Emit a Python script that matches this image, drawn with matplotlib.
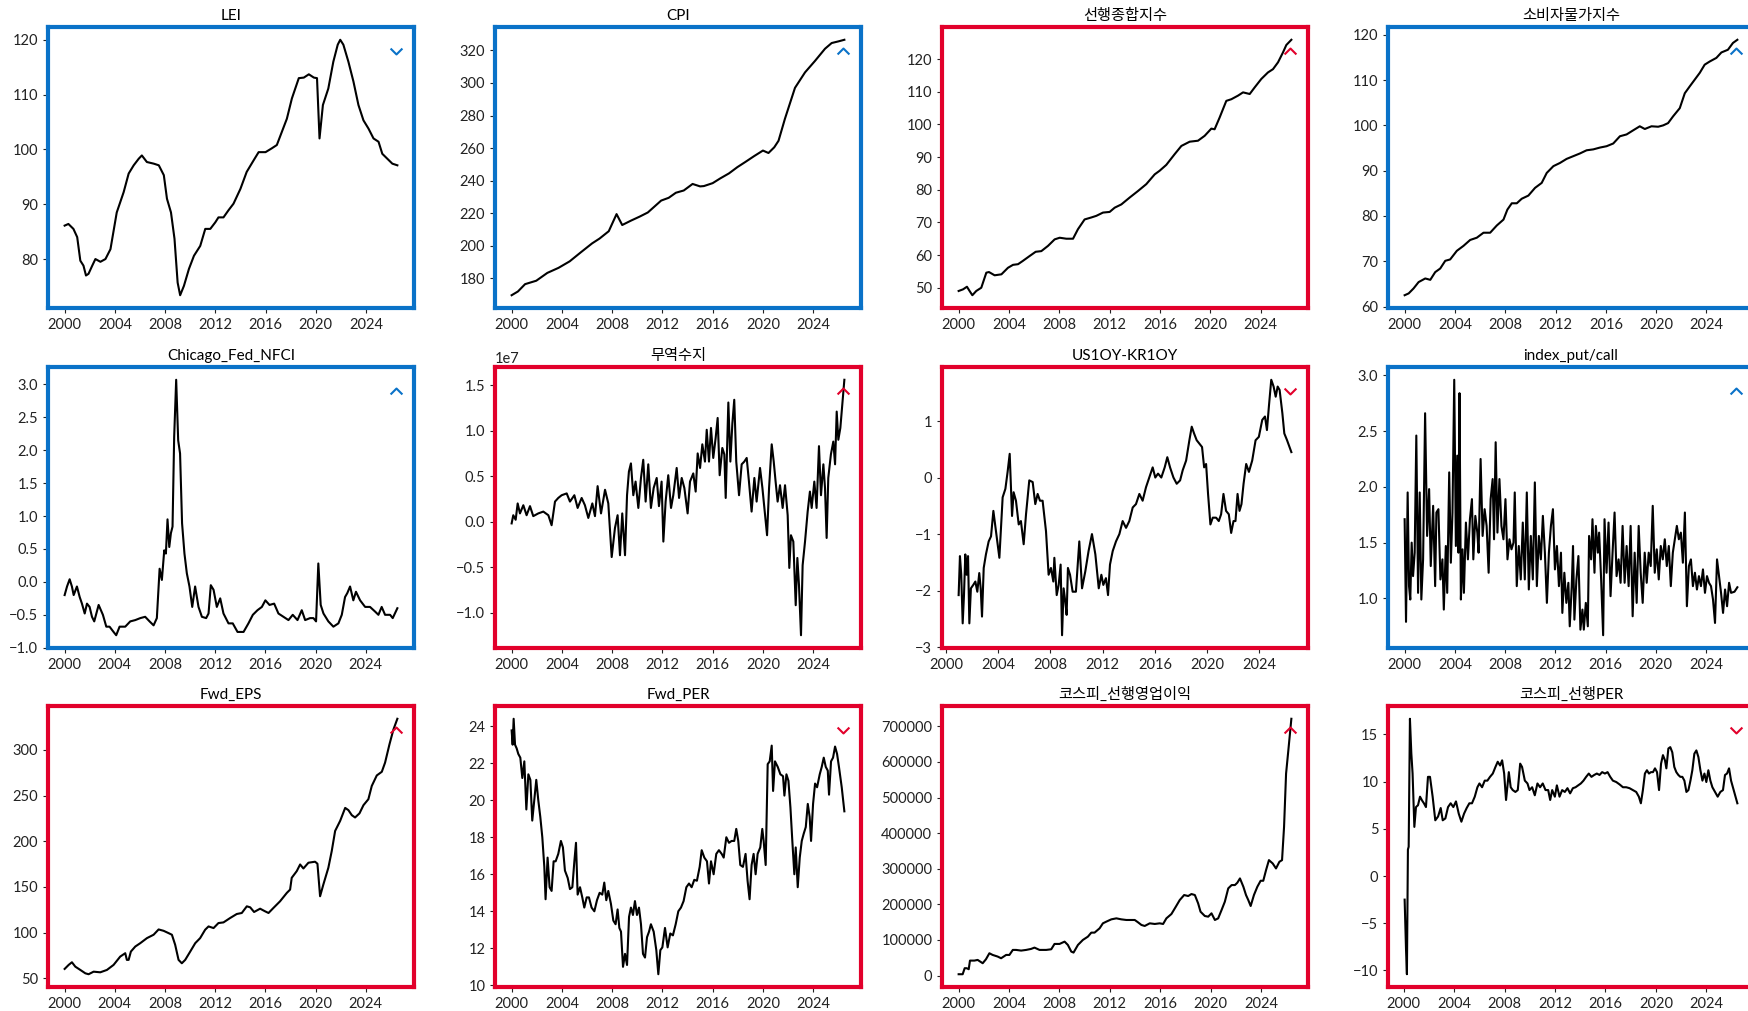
import numpy as np
import matplotlib
matplotlib.use("Agg")
import matplotlib.pyplot as plt
from matplotlib.ticker import MultipleLocator, StrMethodFormatter

plt.rcParams['font.family'] = ['Lato', 'Noto Sans CJK KR', 'DejaVu Sans']
plt.rcParams['axes.unicode_minus'] = True

# ---- data (decimal year, value) ----
lei_year = [2000.0, 2000.3, 2000.7, 2001.0, 2001.25, 2001.5, 2001.7, 2001.9, 2002.2, 2002.45, 2002.85,
            2003.25, 2003.65, 2004.15, 2004.7, 2005.1, 2005.5, 2005.9, 2006.15, 2006.55, 2007.1, 2007.5,
            2007.9, 2008.15, 2008.47, 2008.75, 2009.0, 2009.2, 2009.5, 2009.9, 2010.3, 2010.8, 2011.2,
            2011.6, 2012.0, 2012.25, 2012.65, 2013.05, 2013.45, 2014.0, 2014.5, 2015.05, 2015.45, 2016.0,
            2016.5, 2016.9, 2017.3, 2017.7, 2018.1, 2018.65, 2019.05, 2019.45, 2019.85, 2020.1, 2020.3,
            2020.57, 2021.0, 2021.4, 2021.75, 2021.95, 2022.2, 2022.6, 2023.0, 2023.4, 2023.8, 2024.2,
            2024.6, 2025.0, 2025.3, 2025.7, 2026.1, 2026.5]
lei_val = [86.1, 86.4, 85.5, 84.0, 79.7, 78.8, 77.0, 77.3, 78.8, 80.0, 79.5,
           80.0, 81.8, 88.5, 92.2, 95.6, 97.1, 98.3, 98.9, 97.7, 97.4, 97.1,
           95.3, 91.0, 88.5, 83.7, 75.7, 73.4, 75.1, 78.2, 80.6, 82.4, 85.5,
           85.5, 86.7, 87.6, 87.6, 88.9, 90.1, 92.8, 95.9, 98.0, 99.5, 99.5,
           100.2, 100.8, 103.2, 105.6, 109.3, 113.0, 113.1, 113.7, 113.1, 113.0, 102.0,
           108.1, 111.1, 116.0, 119.1, 120.0, 119.1, 116.0, 112.4, 108.1, 105.3, 103.8,
           102.0, 101.4, 99.2, 98.3, 97.4, 97.1]

cpi_year = [2000.0, 2000.5, 2001.07, 2001.96, 2002.84, 2003.73, 2004.62, 2005.5, 2006.4, 2007.0, 2007.73,
            2008.35, 2008.8, 2009.5, 2010.2, 2010.84, 2011.9, 2012.5, 2013.07, 2013.7, 2014.4, 2015.0,
            2015.3, 2016.0, 2016.6, 2017.3, 2017.96, 2018.6, 2019.3, 2020.0, 2020.44, 2020.9, 2021.24,
            2021.75, 2022.55, 2023.35, 2024.14, 2024.94, 2025.47, 2026.0, 2026.48]
cpi_val = [169.7, 172.0, 176.5, 178.6, 183.4, 186.5, 190.5, 196.0, 201.5, 204.5, 209.0,
           219.5, 212.8, 215.5, 218.0, 220.5, 227.8, 229.5, 232.6, 234.0, 238.0, 236.5,
           236.7, 238.5, 241.4, 244.5, 248.3, 251.5, 255.1, 258.5, 257.0, 260.5, 264.5,
           278.0, 297.0, 306.5, 313.5, 321.0, 324.5, 325.5, 326.5]

lead_year = [2000.0, 2000.35, 2000.66, 2000.87, 2001.09, 2001.4, 2001.8, 2002.2, 2002.41, 2002.86, 2003.4,
             2003.92, 2004.32, 2004.72, 2005.1, 2005.64, 2006.12, 2006.57, 2007.1, 2007.63, 2008.03, 2008.56,
             2009.09, 2009.48, 2010.01, 2010.54, 2010.94, 2011.47, 2012.0, 2012.4, 2012.93, 2013.59, 2014.25,
             2014.91, 2015.58, 2015.97, 2016.5, 2017.17, 2017.7, 2018.36, 2019.02, 2019.55, 2020.08, 2020.34,
             2020.74, 2021.27, 2021.67, 2022.2, 2022.6, 2023.13, 2023.52, 2024.05, 2024.58, 2024.98, 2025.38,
             2025.77, 2026.04, 2026.44]
lead_val = [49.0, 49.5, 50.3, 49.0, 47.7, 49.0, 50.0, 54.6, 54.8, 53.8, 54.1,
            56.1, 57.0, 57.2, 58.2, 59.7, 61.0, 61.2, 62.8, 64.8, 65.3, 65.0,
            65.0, 67.9, 70.9, 71.5, 72.0, 73.0, 73.2, 74.5, 75.5, 77.6, 79.6,
            81.7, 84.7, 85.8, 87.6, 90.9, 93.4, 94.7, 95.0, 96.5, 98.7, 98.5,
            102.1, 107.2, 107.7, 108.8, 109.8, 109.3, 111.3, 113.9, 115.9, 116.9, 119.0,
            122.0, 124.3, 125.9]

kcpi_year = [2000.0, 2000.32, 2000.71, 2001.11, 2001.64, 2002.04, 2002.43, 2002.83, 2003.23, 2003.62, 2004.15,
             2004.68, 2005.21, 2005.74, 2006.27, 2006.8, 2007.33, 2007.86, 2008.17, 2008.52, 2008.92, 2009.31,
             2009.84, 2010.37, 2010.9, 2011.3, 2011.83, 2012.35, 2012.88, 2013.41, 2013.94, 2014.47, 2015.0,
             2015.53, 2016.06, 2016.59, 2017.12, 2017.65, 2018.17, 2018.7, 2019.1, 2019.63, 2020.16, 2020.56,
             2020.95, 2021.35, 2021.88, 2022.28, 2022.67, 2023.07, 2023.47, 2023.86, 2024.26, 2024.79, 2025.19,
             2025.71, 2026.11, 2026.46]
kcpi_val = [62.5, 62.9, 64.0, 65.4, 66.2, 65.9, 67.6, 68.4, 70.1, 70.4, 72.3,
            73.4, 74.7, 75.2, 76.3, 76.3, 77.9, 79.2, 81.4, 82.8, 82.8, 83.8,
            84.5, 86.2, 87.3, 89.5, 91.0, 91.7, 92.6, 93.2, 93.8, 94.5, 94.7,
            95.1, 95.4, 96.0, 97.6, 98.0, 98.9, 99.8, 99.2, 99.8, 99.7, 100.0,
            100.5, 102.0, 103.8, 107.1, 108.6, 110.1, 111.6, 113.4, 114.1, 114.9, 116.1,
            116.7, 118.2, 118.9]

nfci_year = [2000.0, 2000.19, 2000.4, 2000.58, 2000.72, 2000.98, 2001.2, 2001.38, 2001.6, 2001.78, 2001.99,
             2002.18, 2002.36, 2002.71, 2003.05, 2003.32, 2003.58, 2003.9, 2004.11, 2004.38, 2004.83, 2005.23,
             2005.63, 2006.03, 2006.42, 2006.77, 2007.09, 2007.35, 2007.57, 2007.75, 2007.94, 2008.07, 2008.2,
             2008.34, 2008.47, 2008.6, 2008.73, 2008.89, 2009.05, 2009.2, 2009.36, 2009.55, 2009.74, 2009.95,
             2010.17, 2010.4, 2010.67, 2010.94, 2011.28, 2011.47, 2011.65, 2011.87, 2012.13, 2012.4, 2012.66,
             2013.06, 2013.4, 2013.78, 2014.26, 2014.65, 2015.0, 2015.37, 2015.72, 2016.0, 2016.33, 2016.7,
             2017.04, 2017.44, 2017.84, 2018.18, 2018.56, 2018.9, 2019.17, 2019.56, 2019.83, 2020.04, 2020.22,
             2020.41, 2020.63, 2021.02, 2021.42, 2021.82, 2022.09, 2022.35, 2022.53, 2022.75, 2023.01, 2023.22,
             2023.55, 2023.95, 2024.34, 2024.74, 2025.01, 2025.27, 2025.54, 2025.94, 2026.15, 2026.52]
nfci_val = [-0.2, -0.07, 0.04, -0.07, -0.2, -0.07, -0.23, -0.33, -0.48, -0.33, -0.38,
            -0.53, -0.6, -0.35, -0.5, -0.68, -0.68, -0.76, -0.81, -0.68, -0.68, -0.6,
            -0.58, -0.55, -0.53, -0.6, -0.66, -0.55, 0.2, 0.03, 0.48, 0.43, 0.95,
            0.53, 0.74, 0.84, 2.2, 3.07, 2.15, 1.95, 0.89, 0.43, 0.13, -0.07,
            -0.38, -0.07, -0.38, -0.53, -0.55, -0.48, -0.05, -0.12, -0.38, -0.25, -0.48,
            -0.63, -0.63, -0.76, -0.76, -0.63, -0.5, -0.43, -0.38, -0.28, -0.35, -0.33,
            -0.48, -0.53, -0.58, -0.5, -0.58, -0.43, -0.58, -0.55, -0.55, -0.6, 0.28,
            -0.35, -0.48, -0.6, -0.68, -0.63, -0.5, -0.23, -0.17, -0.07, -0.28, -0.15,
            -0.28, -0.38, -0.38, -0.45, -0.5, -0.38, -0.5, -0.5, -0.55, -0.4]

# trade balance, in 1e7 units
trade_year = [2000.0, 2000.13, 2000.32, 2000.48, 2000.66, 2000.93, 2001.19, 2001.46, 2001.72, 2002.12, 2002.52,
              2002.92, 2003.18, 2003.45, 2003.71, 2003.98, 2004.38, 2004.64, 2004.99, 2005.25, 2005.57, 2005.83,
              2006.1, 2006.42, 2006.63, 2006.84, 2007.11, 2007.43, 2007.69, 2007.96, 2008.22, 2008.43, 2008.62,
              2008.8, 2009.02, 2009.18, 2009.33, 2009.49, 2009.68, 2009.86, 2010.08, 2010.29, 2010.47, 2010.66,
              2010.87, 2011.08, 2011.3, 2011.54, 2011.72, 2011.93, 2012.07, 2012.25, 2012.46, 2012.68, 2012.86,
              2013.13, 2013.32, 2013.53, 2013.74, 2014.0, 2014.19, 2014.45, 2014.64, 2014.8, 2014.99, 2015.17,
              2015.38, 2015.52, 2015.7, 2015.86, 2016.04, 2016.23, 2016.39, 2016.55, 2016.76, 2016.92, 2017.03,
              2017.24, 2017.4, 2017.56, 2017.71, 2017.87, 2018.09, 2018.3, 2018.51, 2018.7, 2018.88, 2019.09,
              2019.31, 2019.49, 2019.76, 2019.95, 2020.16, 2020.32, 2020.48, 2020.69, 2020.85, 2021.0, 2021.16,
              2021.35, 2021.56, 2021.75, 2021.96, 2022.09, 2022.22, 2022.41, 2022.6, 2022.73, 2022.86, 2023.02,
              2023.15, 2023.34, 2023.55, 2023.73, 2023.87, 2024.08, 2024.26, 2024.45, 2024.61, 2024.8, 2024.93,
              2025.06, 2025.19, 2025.4, 2025.59, 2025.73, 2025.86, 2025.99, 2026.15, 2026.31, 2026.47]
trade_val = [-0.02, 0.07, 0.02, 0.2, 0.09, 0.18, 0.07, 0.17, 0.06, 0.09, 0.11,
             0.07, -0.04, 0.22, 0.26, 0.29, 0.31, 0.22, 0.29, 0.15, 0.26, 0.18,
             0.04, 0.2, 0.06, 0.39, 0.09, 0.35, 0.2, -0.39, -0.07, 0.07, -0.37,
             0.09, -0.37, 0.29, 0.55, 0.64, 0.29, 0.44, 0.15, 0.48, 0.68, 0.22,
             0.63, 0.15, 0.37, 0.48, 0.17, 0.44, -0.22, 0.22, 0.51, 0.15, 0.29,
             0.59, 0.26, 0.48, 0.37, 0.09, 0.44, 0.53, 0.33, 0.75, 0.59, 0.85,
             0.66, 1.01, 0.66, 1.03, 0.7, 0.92, 1.14, 0.51, 0.81, 0.74, 0.26,
             1.31, 0.66, 1.08, 1.34, 0.66, 0.29, 0.63, 0.66, 0.7, 0.44, 0.11,
             0.48, 0.22, 0.59, 0.37, 0.07, -0.15, 0.37, 0.85, 0.66, 0.44, 0.22,
             0.4, 0.15, 0.4, 0.07, -0.51, -0.15, -0.22, -0.92, -0.4, -0.7, -1.25,
             -0.48, -0.22, 0.11, 0.33, 0.15, 0.44, 0.15, 0.83, 0.29, 0.63, 0.37,
             -0.18, 0.48, 0.74, 0.88, 0.63, 1.21, 0.9, 1.03, 1.29, 1.56]

spread_year = [2000.97, 2001.07, 2001.17, 2001.28, 2001.38, 2001.48, 2001.58, 2001.69, 2001.79, 2001.91, 2002.09,
               2002.25, 2002.4, 2002.55, 2002.66, 2002.76, 2002.89, 2003.06, 2003.27, 2003.45, 2003.63, 2003.83,
               2004.09, 2004.34, 2004.55, 2004.72, 2004.88, 2005.06, 2005.18, 2005.36, 2005.57, 2005.74, 2005.95,
               2006.13, 2006.38, 2006.64, 2006.84, 2007.02, 2007.2, 2007.4, 2007.66, 2007.86, 2008.04, 2008.22,
               2008.3, 2008.48, 2008.63, 2008.78, 2008.89, 2009.01, 2009.14, 2009.24, 2009.34, 2009.5, 2009.7,
               2009.95, 2010.21, 2010.42, 2010.67, 2010.92, 2011.18, 2011.44, 2011.7, 2011.9, 2012.05, 2012.25,
               2012.41, 2012.56, 2012.77, 2013.02, 2013.28, 2013.53, 2013.79, 2014.04, 2014.3, 2014.55, 2014.81,
               2015.06, 2015.32, 2015.57, 2015.83, 2016.03, 2016.24, 2016.49, 2016.75, 2016.95, 2017.16, 2017.42,
               2017.67, 2017.93, 2018.13, 2018.39, 2018.64, 2018.82, 2019.0, 2019.2, 2019.41, 2019.61, 2019.77,
               2019.92, 2020.07, 2020.25, 2020.43, 2020.69, 2020.89, 2021.07, 2021.25, 2021.45, 2021.66, 2021.84,
               2022.02, 2022.17, 2022.33, 2022.48, 2022.63, 2022.79, 2022.99, 2023.2, 2023.45, 2023.71, 2023.96,
               2024.22, 2024.43, 2024.58, 2024.73, 2024.91, 2025.09, 2025.25, 2025.4, 2025.55, 2025.76, 2025.91,
               2026.12, 2026.45]
spread_val = [-2.08, -1.39, -1.72, -2.58, -2.08, -1.36, -1.72, -1.39, -2.58, -1.96, -1.9,
              -1.84, -2.02, -1.69, -1.96, -2.46, -1.6, -1.36, -1.13, -1.04, -0.59, -0.95,
              -1.42, -0.35, -0.2, 0.1, 0.42, -0.68, -0.26, -0.41, -0.83, -0.77, -1.18,
              -0.65, -0.05, -0.08, -0.47, -0.29, -0.41, -0.41, -0.95, -1.72, -1.6, -1.84,
              -1.42, -2.08, -1.9, -1.54, -2.79, -1.96, -2.2, -2.43, -1.6, -1.72, -2.02,
              -2.02, -1.13, -1.96, -1.66, -1.3, -1.0, -1.36, -1.96, -1.72, -1.9, -1.78,
              -2.08, -1.54, -1.3, -1.13, -1.0, -0.77, -0.89, -0.77, -0.53, -0.47, -0.29,
              -0.41, -0.17, 0.0, 0.18, 0.0, 0.07, 0.0, 0.18, 0.36, 0.18, 0.0,
              -0.11, -0.05, 0.13, 0.3, 0.66, 0.9, 0.78, 0.66, 0.6, 0.54, 0.18,
              0.24, -0.29, -0.83, -0.71, -0.71, -0.77, -0.65, -0.29, -0.59, -0.65, -0.98,
              -0.77, -0.77, -0.29, -0.59, -0.47, -0.11, 0.24, 0.1, 0.3, 0.66, 0.72,
              1.02, 1.08, 0.84, 1.26, 1.73, 1.61, 1.43, 1.61, 1.55, 1.14, 0.78,
              0.66, 0.45]

pc_year = [2000.0, 2000.11, 2000.24, 2000.35, 2000.45, 2000.56, 2000.67, 2000.8, 2000.93, 2001.07, 2001.2,
           2001.33, 2001.47, 2001.63, 2001.79, 2001.95, 2002.08, 2002.27, 2002.43, 2002.53, 2002.69, 2002.85,
           2003.01, 2003.12, 2003.28, 2003.39, 2003.55, 2003.68, 2003.81, 2003.95, 2004.08, 2004.19, 2004.29,
           2004.37, 2004.48, 2004.61, 2004.72, 2004.88, 2005.04, 2005.2, 2005.36, 2005.47, 2005.63, 2005.79,
           2005.89, 2006.05, 2006.21, 2006.37, 2006.53, 2006.69, 2006.85, 2007.01, 2007.12, 2007.25, 2007.39,
           2007.55, 2007.71, 2007.87, 2008.03, 2008.19, 2008.35, 2008.51, 2008.67, 2008.77, 2008.93, 2009.09,
           2009.25, 2009.41, 2009.57, 2009.73, 2009.89, 2010.05, 2010.21, 2010.37, 2010.53, 2010.69, 2010.85,
           2011.01, 2011.17, 2011.33, 2011.49, 2011.65, 2011.81, 2011.97, 2012.13, 2012.29, 2012.45, 2012.56,
           2012.72, 2012.88, 2013.04, 2013.15, 2013.31, 2013.41, 2013.52, 2013.68, 2013.84, 2014.0, 2014.16,
           2014.27, 2014.43, 2014.59, 2014.69, 2014.85, 2014.96, 2015.12, 2015.23, 2015.39, 2015.49, 2015.65,
           2015.81, 2015.92, 2016.08, 2016.24, 2016.4, 2016.56, 2016.72, 2016.88, 2017.04, 2017.2, 2017.36,
           2017.52, 2017.68, 2017.84, 2018.0, 2018.16, 2018.32, 2018.48, 2018.64, 2018.8, 2018.96, 2019.12,
           2019.28, 2019.44, 2019.6, 2019.76, 2019.92, 2020.08, 2020.24, 2020.4, 2020.56, 2020.72, 2020.88,
           2021.04, 2021.2, 2021.36, 2021.52, 2021.68, 2021.84, 2022.0, 2022.16, 2022.32, 2022.48, 2022.64,
           2022.8, 2022.96, 2023.12, 2023.28, 2023.44, 2023.6, 2023.76, 2023.92, 2024.08, 2024.24, 2024.4,
           2024.56, 2024.72, 2024.88, 2025.04, 2025.2, 2025.36, 2025.52, 2025.68, 2025.84, 2026.0, 2026.27,
           2026.5]
pc_val = [1.71, 0.79, 1.95, 1.11, 0.99, 1.5, 1.2, 1.41, 2.46, 1.05, 1.95,
          0.99, 1.35, 2.66, 1.56, 1.98, 1.29, 1.83, 1.11, 1.77, 1.8, 1.17,
          1.35, 0.9, 1.47, 1.05, 2.13, 1.32, 1.77, 2.96, 1.47, 2.28, 1.41,
          2.84, 0.99, 1.44, 1.05, 1.68, 1.35, 1.71, 1.89, 1.35, 1.74, 1.59,
          1.41, 2.25, 1.56, 1.8, 1.65, 1.23, 1.89, 2.07, 1.53, 2.4, 1.59,
          2.07, 1.65, 1.53, 1.89, 1.35, 1.53, 1.44, 1.5, 1.95, 1.11, 1.47,
          1.17, 1.68, 1.17, 1.95, 1.08, 1.56, 1.17, 2.04, 1.11, 1.56, 1.35,
          1.74, 1.41, 0.96, 1.41, 1.65, 1.8, 1.26, 1.47, 1.11, 1.41, 0.87,
          1.23, 0.96, 1.14, 0.75, 1.11, 1.47, 0.81, 1.17, 1.38, 0.72, 0.9,
          0.72, 0.96, 0.75, 1.56, 1.35, 1.71, 1.23, 1.65, 1.41, 1.59, 1.17,
          0.67, 1.71, 1.23, 1.68, 1.02, 1.41, 1.77, 1.2, 1.35, 1.14, 1.65,
          1.14, 1.47, 1.11, 1.65, 0.84, 1.41, 0.96, 1.65, 1.23, 0.96, 1.41,
          1.14, 1.41, 1.29, 1.83, 1.23, 1.44, 1.17, 1.47, 1.35, 1.53, 1.29,
          1.47, 1.11, 1.41, 1.53, 1.65, 1.53, 1.59, 1.32, 1.77, 0.93, 1.29,
          1.35, 1.11, 1.23, 1.08, 1.2, 1.11, 1.26, 1.05, 1.2, 1.14, 1.11,
          0.99, 0.78, 1.35, 1.2, 1.05, 0.87, 1.08, 0.93, 1.14, 1.05, 1.06,
          1.1]

eps_year = [2000.0, 2000.32, 2000.58, 2000.85, 2001.25, 2001.65, 2001.91, 2002.31, 2002.84, 2003.37, 2003.9,
            2004.43, 2004.83, 2004.96, 2005.1, 2005.28, 2005.63, 2006.03, 2006.56, 2007.09, 2007.49, 2007.89,
            2008.28, 2008.55, 2008.81, 2009.08, 2009.34, 2009.61, 2010.01, 2010.41, 2010.8, 2011.2, 2011.47,
            2011.87, 2012.26, 2012.66, 2013.19, 2013.72, 2014.12, 2014.52, 2014.79, 2015.1, 2015.58, 2015.98,
            2016.25, 2016.64, 2017.17, 2017.71, 2017.97, 2018.1, 2018.5, 2018.77, 2019.03, 2019.43, 2019.96,
            2020.15, 2020.36, 2020.62, 2021.02, 2021.29, 2021.56, 2021.96, 2022.36, 2022.62, 2022.89, 2023.15,
            2023.5, 2023.82, 2024.21, 2024.48, 2024.88, 2025.28, 2025.54, 2025.89, 2026.2, 2026.52]
eps_val = [60.3, 64.7, 67.6, 62.8, 59.2, 55.5, 54.5, 57.3, 56.6, 59.2, 64.7,
           73.8, 77.5, 70.2, 70.2, 79.3, 84.8, 88.5, 94.0, 97.7, 103.5, 102.0,
           99.5, 97.7, 86.7, 70.2, 66.5, 70.2, 79.3, 88.5, 94.0, 103.2, 106.8,
           105.0, 110.5, 111.2, 116.0, 120.4, 121.5, 128.8, 127.7, 122.6, 126.2, 123.3,
           121.5, 127.0, 134.3, 143.5, 147.1, 160.0, 167.3, 174.6, 170.2, 176.5, 177.6,
           175.4, 139.8, 152.6, 171.0, 189.3, 211.3, 222.3, 236.5, 234.0, 228.5, 226.0,
           230.5, 239.5, 246.0, 260.5, 272.0, 276.0, 286.0, 306.0, 322.0, 334.0]

per_year = [2000.0, 2000.08, 2000.16, 2000.27, 2000.4, 2000.53, 2000.69, 2000.85, 2001.01, 2001.17, 2001.33,
            2001.49, 2001.64, 2001.8, 2001.96, 2002.12, 2002.28, 2002.44, 2002.6, 2002.7, 2002.86, 2003.02,
            2003.18, 2003.34, 2003.5, 2003.71, 2003.92, 2004.08, 2004.24, 2004.46, 2004.64, 2004.83, 2004.99,
            2005.12, 2005.25, 2005.44, 2005.62, 2005.78, 2005.97, 2006.15, 2006.36, 2006.58, 2006.79, 2007.0,
            2007.21, 2007.37, 2007.53, 2007.69, 2007.9, 2008.09, 2008.27, 2008.43, 2008.57, 2008.7, 2008.86,
            2009.02, 2009.18, 2009.34, 2009.49, 2009.65, 2009.81, 2009.97, 2010.13, 2010.29, 2010.45, 2010.61,
            2010.77, 2010.93, 2011.08, 2011.3, 2011.51, 2011.67, 2011.83, 2011.99, 2012.2, 2012.41, 2012.62,
            2012.83, 2013.05, 2013.26, 2013.47, 2013.68, 2013.9, 2014.11, 2014.32, 2014.53, 2014.74, 2014.96,
            2015.12, 2015.33, 2015.54, 2015.7, 2015.86, 2016.07, 2016.28, 2016.49, 2016.71, 2016.87, 2017.08,
            2017.29, 2017.5, 2017.71, 2017.87, 2018.03, 2018.19, 2018.4, 2018.61, 2018.77, 2018.93, 2019.09,
            2019.25, 2019.41, 2019.57, 2019.78, 2019.94, 2020.05, 2020.21, 2020.37, 2020.53, 2020.69, 2020.8,
            2020.95, 2021.17, 2021.38, 2021.59, 2021.7, 2021.86, 2022.02, 2022.18, 2022.33, 2022.49, 2022.6,
            2022.76, 2022.92, 2023.08, 2023.24, 2023.4, 2023.56, 2023.71, 2023.82, 2023.98, 2024.14, 2024.3,
            2024.51, 2024.67, 2024.83, 2024.99, 2025.15, 2025.25, 2025.41, 2025.57, 2025.73, 2025.89, 2026.04,
            2026.26, 2026.47]
per_val = [23.77, 23.0, 24.4, 23.0, 22.8, 22.5, 22.3, 21.2, 22.1, 19.5, 21.4,
           21.1, 18.9, 20.0, 21.1, 20.0, 19.1, 18.0, 16.4, 14.65, 16.9, 15.3,
           15.1, 16.7, 16.7, 17.1, 17.8, 17.45, 16.2, 15.8, 15.2, 15.3, 16.7,
           17.7, 14.9, 15.3, 14.75, 14.2, 14.75, 14.75, 14.2, 14.0, 14.6, 15.0,
           14.9, 15.55, 14.6, 15.1, 14.4, 13.5, 13.3, 14.1, 13.1, 12.9, 11.0,
           11.7, 11.1, 13.7, 14.2, 13.8, 14.55, 13.8, 14.2, 13.3, 11.7, 11.5,
           12.6, 12.9, 13.3, 12.9, 11.9, 10.6, 11.9, 12.05, 13.1, 12.05, 12.8,
           12.7, 13.3, 14.0, 14.2, 14.55, 15.3, 15.5, 15.3, 15.7, 15.65, 16.4,
           17.3, 16.9, 16.7, 15.5, 16.7, 16.0, 17.1, 17.3, 17.1, 16.9, 18.0,
           17.7, 17.8, 17.8, 18.45, 17.8, 16.5, 16.4, 17.1, 15.65, 14.65, 16.5,
           17.1, 16.0, 17.1, 17.45, 18.45, 17.8, 16.5, 21.95, 22.1, 22.95, 20.5,
           22.1, 21.8, 21.4, 21.3, 20.25, 21.4, 21.05, 19.6, 17.8, 16.0, 17.45,
           15.3, 16.9, 17.8, 18.2, 18.55, 19.8, 19.1, 17.8, 19.8, 20.9, 20.7,
           21.4, 21.8, 22.3, 21.8, 21.6, 20.3, 22.1, 22.3, 22.9, 22.5, 21.8,
           20.7, 19.4]

# KOSPI forward operating profit, in thousands
op_year = [2000.0, 2000.32, 2000.48, 2000.64, 2000.8, 2000.9, 2001.25, 2001.51, 2001.91, 2002.17, 2002.44,
           2002.7, 2003.1, 2003.37, 2003.77, 2004.03, 2004.3, 2004.56, 2004.96, 2005.36, 2005.75, 2006.02,
           2006.42, 2006.95, 2007.35, 2007.61, 2008.01, 2008.41, 2008.67, 2008.94, 2009.12, 2009.47, 2009.86,
           2010.26, 2010.53, 2010.79, 2011.19, 2011.45, 2011.72, 2012.12, 2012.52, 2012.91, 2013.31, 2013.71,
           2013.98, 2014.24, 2014.51, 2014.77, 2015.17, 2015.57, 2015.96, 2016.23, 2016.49, 2016.89, 2017.24,
           2017.55, 2017.9, 2018.22, 2018.48, 2018.75, 2019.01, 2019.2, 2019.54, 2019.81, 2020.07, 2020.34,
           2020.6, 2020.87, 2021.13, 2021.4, 2021.67, 2021.93, 2022.12, 2022.33, 2022.6, 2022.81, 2022.99,
           2023.18, 2023.44, 2023.71, 2023.97, 2024.18, 2024.4, 2024.63, 2024.93, 2025.19, 2025.46, 2025.67,
           2025.83, 2025.99, 2026.17, 2026.41]
op_val = [3.7, 3.7, 20.6, 20.6, 17.8, 42.0, 42.0, 43.9, 34.6, 45.8, 62.6,
          57.9, 53.3, 48.6, 57.9, 57.9, 72.0, 72.0, 70.1, 72.0, 74.8, 78.5,
          72.0, 72.0, 73.8, 88.8, 88.8, 95.3, 86.0, 67.3, 64.5, 86.0, 100.0,
          109.3, 120.6, 120.6, 132.7, 146.7, 151.4, 157.9, 160.7, 157.9, 156.1, 156.1,
          156.1, 149.5, 142.1, 139.3, 146.7, 144.9, 146.7, 144.9, 160.7, 172.9, 193.5,
          212.1, 226.2, 223.4, 229.0, 226.2, 202.8, 179.4, 167.3, 165.4, 174.8, 156.1,
          160.7, 184.1, 207.5, 244.9, 254.2, 254.2, 260.7, 272.9, 249.5, 226.2, 212.1,
          195.4, 226.2, 249.5, 266.3, 266.3, 296.2, 324.3, 314.9, 300.9, 319.6, 324.3,
          417.7, 567.3, 632.6, 721.4]

kper_year = [2000.08, 2000.19, 2000.26, 2000.34, 2000.4, 2000.5, 2000.61, 2000.71, 2000.85, 2000.98, 2001.14,
             2001.3, 2001.46, 2001.61, 2001.77, 2001.93, 2002.09, 2002.3, 2002.51, 2002.73, 2002.94, 2003.1,
             2003.31, 2003.52, 2003.73, 2003.94, 2004.15, 2004.37, 2004.58, 2004.79, 2005.0, 2005.21, 2005.42,
             2005.64, 2005.85, 2006.01, 2006.22, 2006.43, 2006.64, 2006.85, 2007.07, 2007.28, 2007.46, 2007.65,
             2007.81, 2007.97, 2008.12, 2008.34, 2008.49, 2008.65, 2008.86, 2009.05, 2009.24, 2009.39, 2009.61,
             2009.82, 2009.98, 2010.19, 2010.4, 2010.61, 2010.82, 2011.03, 2011.25, 2011.46, 2011.62, 2011.78,
             2011.99, 2012.15, 2012.36, 2012.57, 2012.78, 2012.99, 2013.2, 2013.42, 2013.63, 2013.84, 2014.05,
             2014.26, 2014.47, 2014.68, 2014.89, 2015.11, 2015.32, 2015.53, 2015.74, 2015.96, 2016.17, 2016.38,
             2016.59, 2016.86, 2017.12, 2017.39, 2017.65, 2017.91, 2018.18, 2018.44, 2018.65, 2018.81, 2018.97,
             2019.13, 2019.29, 2019.45, 2019.61, 2019.77, 2019.93, 2020.09, 2020.25, 2020.41, 2020.56, 2020.72,
             2020.83, 2020.99, 2021.14, 2021.3, 2021.46, 2021.62, 2021.78, 2021.94, 2022.1, 2022.26, 2022.42,
             2022.58, 2022.74, 2022.89, 2023.05, 2023.21, 2023.37, 2023.53, 2023.69, 2023.85, 2024.0, 2024.16,
             2024.32, 2024.48, 2024.69, 2024.9, 2025.11, 2025.32, 2025.48, 2025.64, 2025.8, 2025.96, 2026.17,
             2026.46]
kper_val = [-2.5, -7.8, -10.4, 2.8, 3.1, 16.65, 13.0, 10.85, 5.2, 7.3, 7.5,
            8.4, 8.0, 7.7, 7.3, 10.5, 10.5, 8.4, 5.9, 6.3, 7.2, 5.9,
            6.1, 7.3, 7.7, 7.3, 7.9, 6.6, 5.75, 6.6, 7.2, 7.7, 7.7,
            8.4, 9.4, 9.8, 9.4, 10.1, 10.1, 10.5, 10.85, 11.55, 12.1, 11.7,
            12.25, 10.85, 8.05, 11.0, 9.4, 9.1, 8.9, 9.1, 11.9, 11.55, 10.1,
            9.8, 9.1, 9.4, 8.55, 9.8, 9.4, 9.8, 9.1, 9.1, 8.05, 9.1,
            8.4, 9.6, 8.4, 9.1, 8.9, 9.3, 8.75, 9.3, 9.4, 9.6, 9.8,
            10.1, 10.5, 10.85, 10.5, 10.7, 10.85, 10.7, 11.0, 10.85, 11.0, 10.5,
            10.1, 9.95, 9.7, 9.4, 9.4, 9.3, 9.1, 8.9, 8.4, 7.7, 9.1,
            10.85, 11.2, 10.85, 11.0, 11.0, 11.4, 11.0, 9.1, 11.9, 12.8, 12.25,
            11.4, 13.5, 13.65, 13.1, 11.55, 11.0, 10.7, 10.5, 10.5, 10.1, 8.9,
            9.1, 10.1, 11.2, 12.95, 13.3, 12.6, 11.2, 10.1, 10.85, 9.95, 11.2,
            10.1, 9.4, 8.9, 8.4, 8.9, 9.1, 10.7, 10.85, 11.4, 10.1, 9.1,
            7.7]

titles = ['LEI', 'CPI', '선행종합지수', '소비자물가지수',
          'Chicago_Fed_NFCI', '무역수지', 'US1OY-KR1OY', 'index_put/call',
          'Fwd_EPS', 'Fwd_PER', '코스피_선행영업이익', '코스피_선행PER']
series_x = [lei_year, cpi_year, lead_year, kcpi_year,
            nfci_year, trade_year, spread_year, pc_year,
            eps_year, per_year, op_year, kper_year]
series_y = [lei_val, cpi_val, lead_val, kcpi_val,
            nfci_val, np.array(trade_val) * 1e7, spread_val, pc_val,
            eps_val, per_val, np.array(op_val) * 1e3, kper_val]
signal_up = [False, True, True, True,
             True, True, False, True,
             True, False, True, False]
frame_kind = ['blue', 'blue', 'red', 'blue',
              'blue', 'red', 'red', 'blue',
              'red', 'red', 'red', 'red']

colors = {'blue': '#0a72c8', 'red': '#e2002b'}
up_mark = [(-1, -0.5), (0, 0.5), (1, -0.5)]
down_mark = [(-1, 0.5), (0, -0.5), (1, 0.5)]

W, H = 1748, 1011
fig = plt.figure(figsize=(W / 100, H / 100), dpi=100)

col_left = [48, 495, 942, 1388]
row_top = [27, 367, 706]
ax_w, ax_h = 366, 281

for i in range(12):
    r, c = divmod(i, 4)
    x0, y0 = col_left[c], row_top[r]
    ax = fig.add_axes([x0 / W, 1 - (y0 + ax_h) / H, ax_w / W, ax_h / H])
    ax.plot(series_x[i], series_y[i], color='black', lw=1.5)
    ax.set_title(titles[i], fontsize=11, pad=5)
    ax.xaxis.set_major_locator(MultipleLocator(4))
    ax.xaxis.set_major_formatter(StrMethodFormatter('{x:.0f}'))
    ax.tick_params(labelsize=10.5, colors='#222222')
    ax.yaxis.get_offset_text().set_fontsize(10.5)
    col = colors[frame_kind[i]]
    for sp in ax.spines.values():
        sp.set_edgecolor(col)
        sp.set_linewidth(3)
    ax.plot([0.952], [0.915], transform=ax.transAxes,
            marker=up_mark if signal_up[i] else down_mark,
            markersize=8.5, markerfacecolor='none', markeredgecolor=col,
            markeredgewidth=1.5, linestyle='none', clip_on=False)

fig.savefig('out.png', dpi=100)
